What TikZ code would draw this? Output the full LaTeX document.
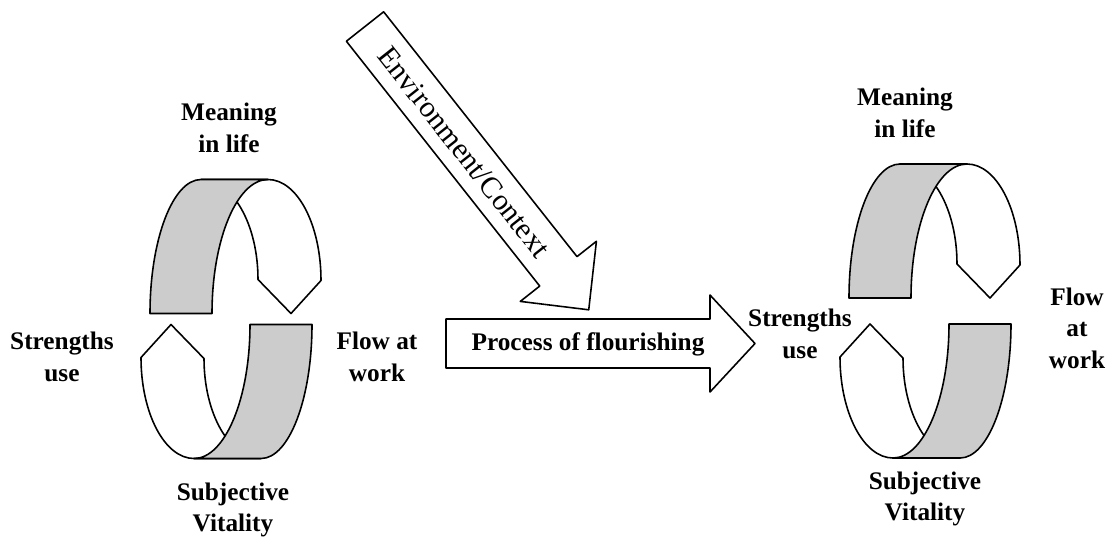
\documentclass[tikz,border=0pt]{standalone}
\usepackage{fontspec}
\setmainfont{Liberation Serif}
\definecolor{bandgray}{RGB}{204,204,204}
\tikzset{
  lbl/.style={font=\bfseries\fontsize{14.4}{18}\selectfont, align=center, inner sep=0pt},
  outline/.style={draw=black, line width=0.9pt, line join=round},
  % one half of the loop: grey band in front, white band with arrow head behind
  halfloop/.pic={
    \draw[outline, fill=white] (37,-134) arc[start angle=270, end angle=360, x radius=53, y radius=101]
      -- (60,0) -- (27,-34) arc[start angle=0, end angle=-90, x radius=57, y radius=100] -- cycle;
    \draw[outline, fill=bandgray] (-81,0) arc[start angle=180, end angle=270, x radius=51, y radius=134]
      -- (37,-134) arc[start angle=270, end angle=180, x radius=56, y radius=134] -- cycle;
  }
}
\begin{document}
\begin{tikzpicture}[x=0.02cm, y=-0.02cm]
    \useasboundingbox (0,0) rectangle (1110,539);

    % left loop
    \pic at (231,313.5) {halfloop};
    \pic[rotate=180] at (231,324.5) {halfloop};

    % right loop
    \pic at (930,298) {halfloop};
    \pic[rotate=180] at (930,324) {halfloop};

    % environment arrow
    \begin{scope}[shift={(365,26.5)}, rotate=-51.7]
        \draw[outline, fill=white] (0,-23.75) -- (312,-23.75) -- (312,-48.5) -- (361,0)
            -- (312,48.5) -- (312,23.75) -- (0,23.75) -- cycle;
    \end{scope}
    \node[rotate=-51.7, font=\fontsize{17}{20}\selectfont, inner sep=0pt] (env) at (464,152) {Environment/Context};

    % process arrow
    \draw[outline, fill=white] (446,319) -- (710,319) -- (710,295) -- (755,343.5)
        -- (710,392) -- (710,368) -- (446,368) -- cycle;
    \node[lbl] (proc) at (588,344) {Process of flourishing};

    % labels, left
    \node[lbl] (meanL) at (229,128) {Meaning\\in life};
    \node[lbl] (strL) at (62,357) {Strengths\\use};
    \node[lbl] (flowL) at (377,357) {Flow at\\work};
    \node[lbl] (vitL) at (233,510) {Subjective\\Vitality};

    % labels, right
    \node[lbl] (meanR) at (905,113) {Meaning\\in life};
    \node[lbl] (strR) at (800,334) {Strengths\\use};
    \node[lbl] (flowR) at (1077,328) {Flow\\at\\work};
    \node[lbl] (vitR) at (925,499) {Subjective\\Vitality};
\end{tikzpicture}
\end{document}
